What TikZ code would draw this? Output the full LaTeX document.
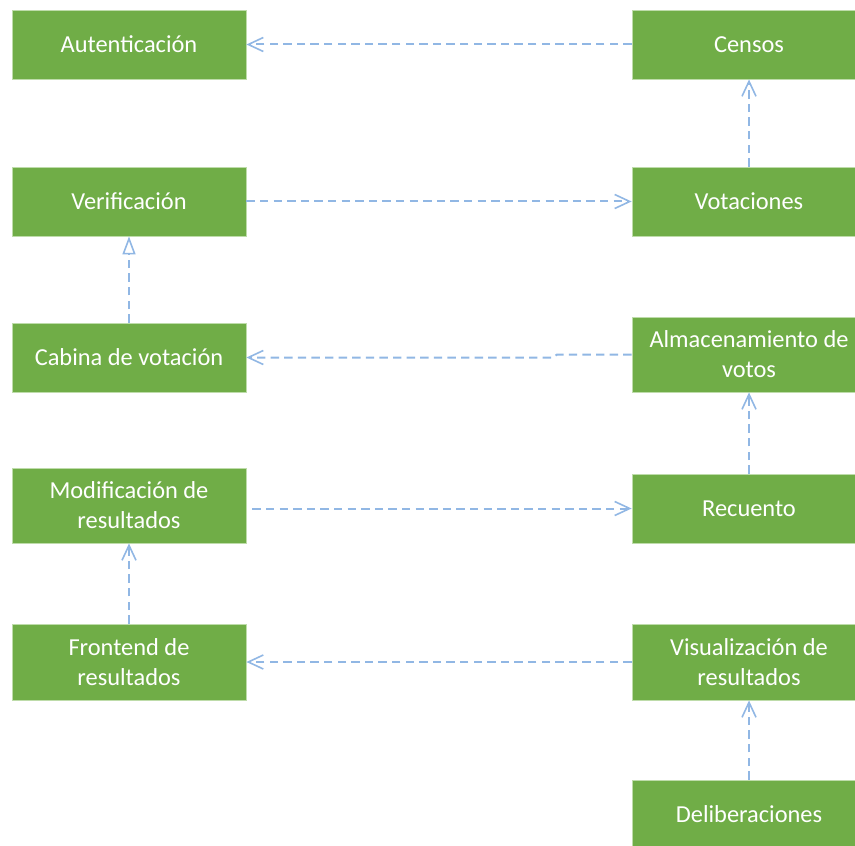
\documentclass[tikz,border=0pt]{standalone}
\usepackage{fontspec}
\setmainfont{Carlito}
\usepackage{xcolor}
\definecolor{ModuleGreen}{RGB}{112,173,71}
\definecolor{ModuleEdge}{RGB}{190,220,170}
\definecolor{LinkBlue}{RGB}{145,183,228}
\usetikzlibrary{arrows.meta}
\tikzset{
  module/.style={rectangle, fill=ModuleGreen, draw=ModuleEdge, line width=0.4pt,
    minimum width=117pt, minimum height=34.5pt, inner sep=0pt,
    text=white, align=center, font=\fontsize{12.2}{15}\selectfont},
  dep/.style={draw=LinkBlue, line width=1pt, dash pattern=on 4.2pt off 2.6pt,
    -{Straight Barb[length=7.5pt, width=7pt, line width=0.8pt]}},
  depgen/.style={draw=LinkBlue, line width=1pt, dash pattern=on 4.2pt off 2.6pt,
    -{Triangle[open, length=9pt, width=6.5pt, line width=0.8pt]}}
}

\begin{document}
\begin{tikzpicture}[x=0.5pt, y=-0.5pt]

\useasboundingbox (0,0) rectangle (855,845);
\clip (0,0) rectangle (855,845);

\node[module] (aut) at (129,44.5) {Autenticación};
\node[module] (cen) at (749,44.5) {Censos};
\node[module] (ver) at (129,201.5) {Verificación};
\node[module] (vot) at (749,201.5) {Votaciones};
\node[module] (cab) at (129,357.5) {Cabina de votación};
\node[module, minimum height=37.5pt] (alm) at (749,354.5) {Almacenamiento de\\votos};
\node[module, minimum height=37.5pt] (mod) at (129,505.5) {Modificación de\\resultados};
\node[module] (rec) at (749,508.5) {Recuento};
\node[module, minimum height=38pt] (fro) at (129,662) {Frontend de\\resultados};
\node[module, minimum height=38pt] (vis) at (749,662) {Visualización de\\resultados};
\node[module] (del) at (749,814.5) {Deliberaciones};

\coordinate (jogR) at (557,354.5);
\coordinate (jogL) at (553,357.5);

\draw[dep] (cen.west) -- (aut.east);
\draw[dep] (ver.east) -- (vot.west);
\draw[dep] (vot.north) -- (cen.south);
\draw[depgen] (cab.north) -- (ver.south);
\draw[dep] (alm.west) -- (jogR) -- (jogL) -- (cab.east);
\draw[dep] (rec.north) -- (alm.south);
\draw[dep, shorten <=3pt] (mod.east |- rec.west) -- (rec.west);
\draw[dep] (fro.north) -- (mod.south);
\draw[dep] (vis.west) -- (fro.east);
\draw[dep] (del.north) -- (vis.south);

\end{tikzpicture}
\end{document}
